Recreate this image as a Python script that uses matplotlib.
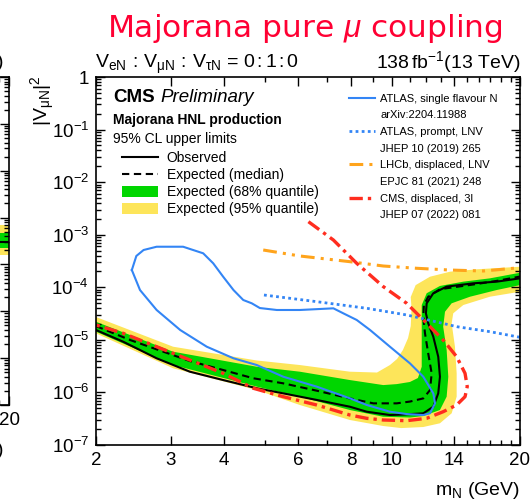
import numpy as np
import matplotlib.pyplot as plt
from matplotlib.lines import Line2D
from matplotlib.patches import Patch
from matplotlib.ticker import NullFormatter

plt.rcParams['font.family'] = ['Liberation Sans', 'DejaVu Sans']
plt.rcParams['mathtext.fontset'] = 'custom'
plt.rcParams['mathtext.rm'] = 'Liberation Sans'
plt.rcParams['mathtext.it'] = 'Liberation Sans:italic'
plt.rcParams['mathtext.bf'] = 'Liberation Sans:bold'
plt.rcParams['mathtext.default'] = 'regular'

# observed 95% CL limit (mass in GeV, |V_muN|^2)
obs_m = [2.0, 2.32, 2.78, 3.33, 3.99, 4.79, 5.53, 6.63, 7.94, 8.70, 9.87, 10.61,
         11.83, 12.49, 12.83, 12.95, 12.83, 12.49, 12.15, 12.0, 12.05, 12.49,
         13.43, 15.52, 17.62, 20.0]
obs_v = [1.54e-5, 9.2e-6, 4.46e-6, 2.48e-6, 1.72e-6, 1.20e-6, 9.6e-7, 7.2e-7,
         5.35e-7, 4.30e-7, 3.72e-7, 3.8e-7, 4.0e-7, 5.35e-7, 9.6e-7, 1.99e-6,
         4.78e-6, 1.15e-5, 2.07e-5, 3.2e-5, 4.96e-5, 7.7e-5, 1.03e-4, 1.19e-4,
         1.28e-4, 1.48e-4]

# expected (median)
exp_m = [2.0, 2.41, 2.78, 3.33, 3.99, 4.70, 5.53, 6.63, 7.94, 9.02, 10.24, 11.0,
         11.83, 12.27, 12.38, 12.15, 11.94, 11.83, 11.87, 12.15, 12.95, 15.52,
         17.6, 20.0]
exp_v = [1.83e-5, 9.9e-6, 6.6e-6, 3.96e-6, 2.67e-6, 1.86e-6, 1.49e-6, 1.08e-6,
         7.7e-7, 6.2e-7, 6.2e-7, 6.7e-7, 7.7e-7, 1.11e-6, 2.31e-6, 5.55e-6,
         1.33e-5, 2.76e-5, 4.6e-5, 6.6e-5, 9.2e-5, 1.13e-4, 1.32e-4, 1.60e-4]

# 68% band edges
g_up_m = [2.0, 3.04, 4.79, 6.05, 7.94, 9.52, 10.24, 11.0, 11.49, 11.73, 11.73,
          11.73, 11.73, 12.05, 12.95, 14.70, 16.99, 20.0]
g_up_v = [2.21e-5, 5.95e-6, 3.08e-6, 2.48e-6, 1.72e-6, 1.38e-6, 1.44e-6, 1.58e-6,
          1.88e-6, 3.08e-6, 8.6e-6, 2.39e-5, 4.6e-5, 7.7e-5, 1.06e-4, 1.28e-4,
          1.48e-4, 1.89e-4]
g_lo_m = [2.0, 3.04, 4.79, 6.05, 7.94, 9.51, 11.0, 11.83, 12.95, 13.43, 13.55,
          13.43, 13.18, 13.31, 13.80, 15.25, 17.62, 20.0]
g_lo_v = [1.43e-5, 3.32e-6, 1.29e-6, 8.3e-7, 4.63e-7, 3.45e-7, 3.33e-7, 3.56e-7,
          4.63e-7, 8.3e-7, 1.99e-6, 6.41e-6, 1.78e-5, 3.43e-5, 4.96e-5, 6.62e-5,
          8.87e-5, 1.10e-4]

# 95% band edges
y_up_m = [2.0, 3.04, 4.79, 6.05, 7.94, 9.20, 9.87, 10.26, 10.59, 10.89, 11.05,
          11.1, 11.05, 11.35, 12.27, 13.68, 15.84, 20.0]
y_up_v = [2.72e-5, 7.41e-6, 4.05e-6, 3.32e-6, 2.48e-6, 2.39e-6, 3.32e-6, 4.33e-6,
          6.41e-6, 1.08e-5, 1.83e-5, 4.03e-5, 6.53e-5, 1.10e-4, 1.59e-4, 1.98e-4,
          2.20e-4, 2.46e-4]
y_lo_m = [2.0, 3.04, 4.79, 6.05, 7.94, 9.51, 10.5, 11.83, 12.95, 13.80, 14.18,
          14.18, 14.05, 13.80, 13.92, 14.70, 16.99, 20.0]
y_lo_v = [1.33e-5, 2.88e-6, 1.11e-6, 5.77e-7, 2.99e-7, 2.3e-7, 2.1e-7, 2.2e-7,
          2.59e-7, 4.01e-7, 8.3e-7, 2.31e-6, 7.41e-6, 2.07e-5, 3.2e-5, 4.6e-5,
          6.62e-5, 8.24e-5]

# ATLAS, single flavour N (closed contour)
atlas_m = [2.43, 2.49, 2.59, 2.78, 3.21, 3.58, 3.78, 3.99, 4.22, 4.45, 4.66, 4.87,
           5.34, 6.05, 7.26, 7.66, 8.24, 8.86, 9.87, 11.0, 11.83, 12.49, 12.61,
           12.27, 11.83, 10.81, 9.87, 8.70, 7.94, 6.63, 5.53, 4.79, 4.22, 3.65,
           3.16, 2.78, 2.54, 2.43]
atlas_v = [2.13e-4, 3.94e-4, 5.12e-4, 5.91e-4, 5.91e-4, 4.43e-4, 2.86e-4, 1.59e-4,
           8.87e-5, 5.73e-5, 4.96e-5, 4.03e-5, 3.70e-5, 3.70e-5, 3.98e-5, 3.20e-5,
           2.39e-5, 1.54e-5, 7.41e-6, 3.58e-6, 1.99e-6, 9.6e-7, 6.2e-7, 4.01e-7,
           3.72e-7, 3.88e-7, 4.30e-7, 5.77e-7, 7.73e-7, 1.29e-6, 1.99e-6, 3.32e-6,
           4.46e-6, 7.41e-6, 1.54e-5, 3.70e-5, 8.87e-5, 2.13e-4]

# ATLAS, prompt, LNV
prompt_m = [4.98, 6.64, 8.71, 10.83, 14.2, 17.0, 20.0]
prompt_v = [7.13e-5, 5.32e-5, 3.98e-5, 2.97e-5, 1.78e-5, 1.43e-5, 1.12e-5]

# LHCb, displaced, LNV
lhcb_m = [4.96, 6.05, 7.94, 9.52, 11.41, 13.68, 16.39, 20.0]
lhcb_v = [5.12e-4, 3.94e-4, 3.07e-4, 2.54e-4, 2.30e-4, 2.13e-4, 2.04e-4, 2.36e-4]

# CMS, displaced, 3l
cms3l_m = [6.34, 7.26, 8.24, 9.52, 10.81, 12.05, 13.18, 14.18, 14.84, 15.02, 14.84,
           14.18, 13.18, 12.05, 10.81, 9.52, 8.70, 7.94, 6.63, 5.53, 4.70, 3.99,
           3.33, 2.78, 2.32, 2.0]
cms3l_v = [1.77e-3, 7.93e-4, 2.86e-4, 1.03e-4, 4.96e-5, 2.07e-5, 9.93e-6, 4.78e-6,
           2.31e-6, 1.29e-6, 8.3e-7, 5.77e-7, 4.30e-7, 3.22e-7, 2.90e-7, 2.99e-7,
           3.22e-7, 3.72e-7, 5.77e-7, 8.3e-7, 1.20e-6, 2.31e-6, 4.14e-6, 7.41e-6,
           1.33e-5, 1.92e-5]

# tail end of the neighbouring panel
nb_m = [16.0, 20.0]
nb_yel_lo = [1.6e-4, 1.6e-4]
nb_yel_up = [7.0e-4, 7.0e-4]
nb_grn_lo = [2.2e-4, 2.2e-4]
nb_grn_up = [4.7e-4, 4.7e-4]
nb_obs = [3.0e-4, 3.0e-4]

x_major = [2, 3, 4, 6, 8, 10, 14, 20]
x_minor = [5, 7, 9, 11, 12, 13, 15, 16, 17, 18, 19]
y_major = [1e-7, 1e-6, 1e-5, 1e-4, 1e-3, 1e-2, 1e-1, 1]
y_labels = ['$10^{-7}$', '$10^{-6}$', '$10^{-5}$', '$10^{-4}$', '$10^{-3}$',
            '$10^{-2}$', '$10^{-1}$', '1']

YELLOW = '#fde55a'
GREEN = '#00d600'
BLUE = '#3385f5'
ORANGE = '#ffa41c'
RED = '#ff2d1f'


def style_axes(a):
    a.set_xscale('log')
    a.set_yscale('log')
    a.set_xlim(2, 20)
    a.set_ylim(1e-7, 1)
    a.set_yticks(y_major, labels=y_labels)
    a.set_yticks([k * 10.0 ** e for e in range(-7, 0) for k in range(2, 10)], minor=True)
    a.yaxis.set_minor_formatter(NullFormatter())
    a.set_xticks(x_minor, minor=True)
    a.xaxis.set_minor_formatter(NullFormatter())
    a.tick_params(which='both', direction='in', top=True, right=True,
                  width=1.0, labelsize=13.5)
    a.tick_params(which='major', length=6.5, pad=5)
    a.tick_params(which='minor', length=3.5)
    for s in a.spines.values():
        s.set_linewidth(1.2)


fig = plt.figure(figsize=(5.30, 5.03), dpi=100)

# neighbouring panel, only its right edge is visible
nb = fig.add_axes([-0.8, 0.1948, 0.817, 0.6521])
style_axes(nb)
nb.tick_params(labelleft=False)
nb.set_xticks([20], labels=['20'])
nb.fill_between(nb_m, nb_yel_lo, nb_yel_up, color=YELLOW, lw=0)
nb.fill_between(nb_m, nb_grn_lo, nb_grn_up, color=GREEN, lw=0)
nb.plot(nb_m, nb_obs, color='black', lw=1.5)
fig.text(0.006, 0.8668, ')', ha='right', va='baseline', fontsize=14)
fig.text(0.006, 0.095, ')', ha='right', va='baseline', fontsize=14)

ax = fig.add_axes([0.1811, 0.1153, 0.8, 0.7316])
style_axes(ax)
ax.set_xticks(x_major, labels=[str(v) for v in x_major])

ax.fill(np.r_[y_up_m, y_lo_m[::-1]], np.r_[y_up_v, y_lo_v[::-1]], color=YELLOW, lw=0)
ax.fill(np.r_[g_up_m, g_lo_m[::-1]], np.r_[g_up_v, g_lo_v[::-1]], color=GREEN, lw=0)
ax.plot(obs_m, obs_v, color='black', lw=1.5)
ax.plot(exp_m, exp_v, color='black', lw=1.5, dashes=(3.5, 2.2))
ax.plot(atlas_m, atlas_v, color=BLUE, lw=1.5)
ax.plot(prompt_m, prompt_v, color=BLUE, lw=2.0, dashes=(1.0, 1.2))
ax.plot(lhcb_m, lhcb_v, color=ORANGE, lw=2.2, dashes=(4.5, 2, 1, 2, 1, 2))
ax.plot(cms3l_m, cms3l_v, color=RED, lw=2.4, dashes=(4, 1.5, 1, 1.5))

ax.set_xlabel('$m_{N}$ (GeV)', fontsize=14, loc='right')
ax.xaxis.set_label_coords(1.0, -0.095)
ax.set_ylabel('$|V_{μN}|^{2}$', fontsize=14, loc='top')
ax.yaxis.set_label_coords(-0.092, 1.005)

ax.text(0.040, 0.933, 'CMS', transform=ax.transAxes, fontsize=13.5,
        fontweight='bold', va='baseline')
ax.text(0.151, 0.933, 'Preliminary', transform=ax.transAxes, fontsize=13.5,
        style='italic', va='baseline')
ax.text(0.040, 0.8723, 'Majorana HNL production', transform=ax.transAxes,
        fontsize=10, fontweight='bold', va='baseline')
ax.text(0.040, 0.8198, '95% CL upper limits', transform=ax.transAxes,
        fontsize=10, va='baseline')

left_handles = [Line2D([], [], color='black', lw=1.5),
                Line2D([], [], color='black', lw=1.5, dashes=(3.5, 2.2)),
                Patch(color=GREEN, lw=0), Patch(color=YELLOW, lw=0)]
left_labels = ['Observed', 'Expected (median)', 'Expected (68% quantile)',
               'Expected (95% quantile)']
leg1 = ax.legend(left_handles, left_labels, loc='upper left',
                 bbox_to_anchor=(0.0606, 0.7985), frameon=False, fontsize=10,
                 borderpad=0, borderaxespad=0, handlelength=2.6,
                 handleheight=0.88, handletextpad=0.63, labelspacing=0.22)
ax.add_artist(leg1)

blank = Line2D([], [], linestyle='none')
right_handles = [Line2D([], [], color=BLUE, lw=1.5), blank,
                 Line2D([], [], color=BLUE, lw=2.0, dashes=(1.0, 1.2)), blank,
                 Line2D([], [], color=ORANGE, lw=2.2, dashes=(4.5, 2, 1, 2, 1, 2)), blank,
                 Line2D([], [], color=RED, lw=2.4, dashes=(4, 1.5, 1, 1.5)), blank]
right_labels = ['ATLAS, single flavour N', 'arXiv:2204.11988',
                'ATLAS, prompt, LNV', 'JHEP 10 (2019) 265',
                'LHCb, displaced, LNV', 'EPJC 81 (2021) 248',
                'CMS, displaced, 3l', 'JHEP 07 (2022) 081']
ax.legend(right_handles, right_labels, loc='upper left',
          bbox_to_anchor=(0.597, 0.955), frameon=False, fontsize=8,
          borderpad=0, borderaxespad=0, handlelength=2.3,
          handletextpad=0.5, labelspacing=0.6)

fig.text(0.1792, 0.8648,
         '$V_{eN}\\,:\\,V_{μN}\\,:\\,V_{τN}$ = 0$\\,$:$\\,$1$\\,$:$\\,$0',
         fontsize=14, va='baseline')
fig.text(0.9811, 0.8648, '138$\\,$fb$^{-1}$(13 TeV)', fontsize=14,
         ha='right', va='baseline')
fig.text(0.5755, 0.9264, 'Majorana pure $\\mathit{μ}$ coupling', color='#ff0033',
         fontsize=22.5, ha='center', va='baseline', family='DejaVu Sans')

fig.savefig('out.png', dpi=100)
